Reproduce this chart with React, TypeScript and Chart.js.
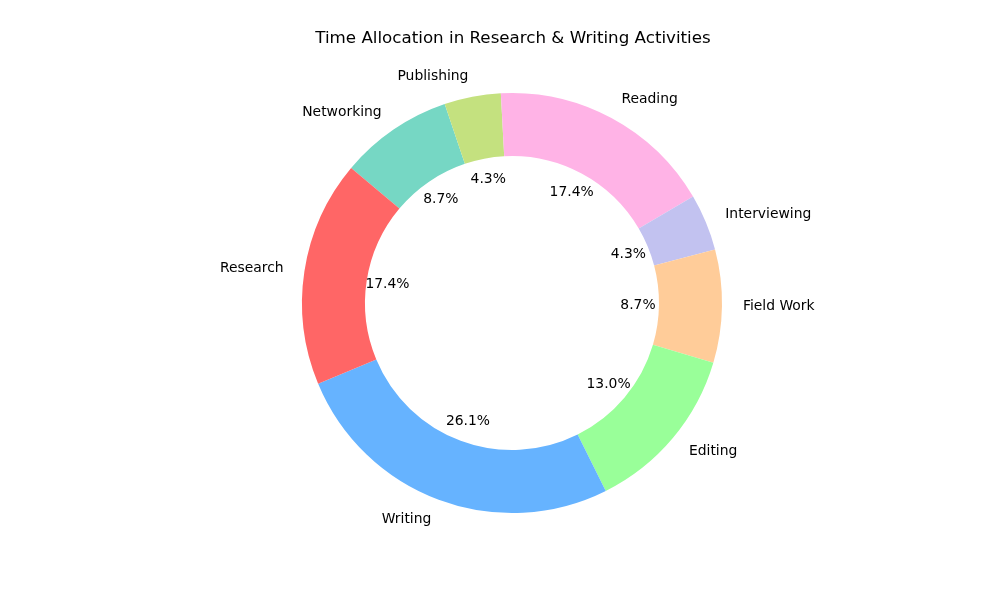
import React, { useEffect, useRef } from "react";
import { Chart, registerables } from "chart.js";

Chart.register(...registerables);

// Listed clockwise (Chart.js direction) so the layout matches the counter-clockwise original
const categories = ["Networking", "Publishing", "Reading", "Interviewing", "Field Work", "Editing", "Writing", "Research"];
const values = [2, 1, 4, 1, 2, 3, 6, 4];
const colors = ["#76d7c4", "#c4e17f", "#ffb3e6", "#c2c2f0", "#ffcc99", "#99ff99", "#66b3ff", "#ff6666"];
const titleText = "Time Allocation in Research & Writing Activities";

const FONT = "'DejaVu Sans', sans-serif";

const labelPlugin = {
  id: "donutLabels",
  afterDraw(chart: any) {
    const ctx = chart.ctx;
    const meta = chart.getDatasetMeta(0);
    const data = chart.data.datasets[0].data as number[];
    const total = data.reduce((a, b) => a + b, 0);
    ctx.save();
    // title
    ctx.fillStyle = "#000";
    ctx.font = `16.7px ${FONT}`;
    ctx.textAlign = "center";
    ctx.textBaseline = "middle";
    ctx.fillText(titleText, 513, 39);
    ctx.font = `13.9px ${FONT}`;
    meta.data.forEach((arc: any, i: number) => {
      const p = arc.getProps(["x", "y", "startAngle", "endAngle", "outerRadius"], true);
      const mid = (p.startAngle + p.endAngle) / 2;
      const cx = Math.cos(mid);
      const cy = Math.sin(mid);
      // category label
      const lr = p.outerRadius * 1.1;
      ctx.textAlign = cx < 0 ? "right" : "left";
      ctx.textBaseline = "middle";
      ctx.fillText(chart.data.labels[i], p.x + cx * lr, p.y + cy * lr);
      // percent label
      const pr = p.outerRadius * 0.6;
      ctx.textAlign = "center";
      const pct = ((data[i] / total) * 100).toFixed(1) + "%";
      ctx.fillText(pct, p.x + cx * pr, p.y + cy * pr);
    });
    ctx.restore();
  },
};

export default function App() {
  const ref = useRef<HTMLCanvasElement>(null);
  useEffect(() => {
    document.body.style.margin = "0";
    const chart = new Chart(ref.current!, {
      type: "doughnut",
      data: {
        labels: categories,
        datasets: [
          {
            data: values,
            backgroundColor: colors,
            borderWidth: 0,
          },
        ],
      },
      options: {
        animation: false,
        responsive: false,
        rotation: -50,
        cutout: "70%",
        layout: { padding: { top: 93, bottom: 87, left: 302, right: 278 } },
        plugins: {
          legend: { display: false },
          tooltip: { enabled: false },
          title: { display: false },
        },
      },
      plugins: [labelPlugin],
    });
    return () => chart.destroy();
  }, []);
  return (
    <div style={{ width: 1000, height: 600, background: "#fff" }}>
      <canvas ref={ref} width={1000} height={600} />
    </div>
  );
}
